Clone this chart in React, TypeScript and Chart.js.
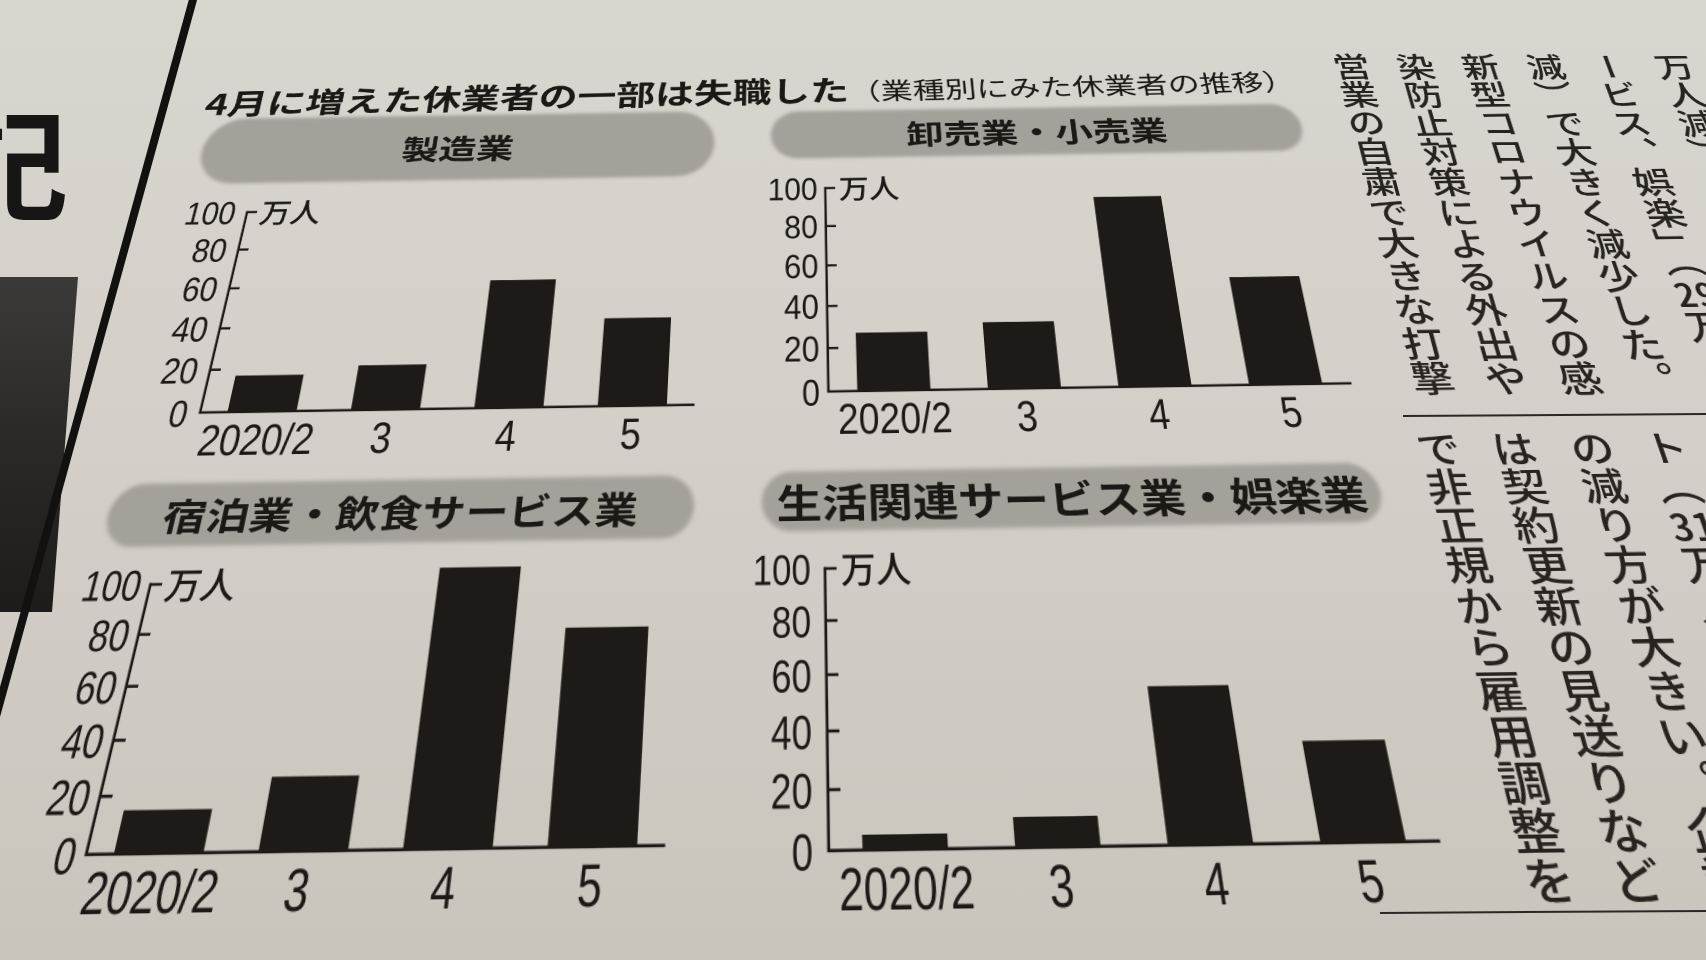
import React, { useEffect, useRef } from "react";
import { Chart, registerables } from "chart.js";

Chart.register(...registerables);

// ---------- data ----------
const categories = ["2020/2", "3", "4", "5"];
const manufacturing = [17, 21, 62, 42];
const wholesaleRetail = [27, 31, 93, 51];
const accommodationFood = [15, 26, 105, 80];
const livingEntertainment = [5, 10, 54, 34];
const yTickValues = [0, 20, 40, 60, 80, 100];
const unitLabel = "万人";
const mainTitle = "4月に増えた休業者の一部は失職した";
const subTitle = "（業種別にみた休業者の推移）";
const panelTitles = [
  "製造業",
  "卸売業・小売業",
  "宿泊業・飲食サービス業",
  "生活関連サービス業・娯楽業",
];
// surrounding article text (vertical columns, right to left)
const articleUpper = [
  "万人減）",
  "ービス、娯楽」（29万人",
  "減）で大きく減少した。",
  "新型コロナウイルスの感",
  "染防止対策による外出や",
  "営業の自粛で大きな打撃",
];
const articleLower = [
  "ト（31万人",
  "の減り方が大きい。企業",
  "は契約更新の見送りなど",
  "で非正規から雇用調整を",
];

// ---------- styles ----------
const INK = "#1b1816";
const BAR = "#1e1a17";
const BANNER = "#a4a09a";
const JP = '"Noto Sans CJK JP", "Noto Sans CJK SC", sans-serif';
const REG = '"Liberation Sans", Arial, sans-serif';

// ---------- photo perspective (the page is shot at an angle) ----------
const OX = 830;
const OY = 480;
const VD = 2580; // distance to vanishing point of vertical lines
const TILT = 6;
const ROT = -0.9;
const RAD = Math.PI / 180;
const COSA = Math.cos(TILT * RAD);
const PERSP = VD * Math.tan(TILT * RAD);

// screen point (as seen in the photo) -> flat page coordinates
function toFlat(sx: number, sy: number) {
  const r = -ROT * RAD;
  const dx = sx - OX;
  const dy = sy - OY;
  const xr = dx * Math.cos(r) - dy * Math.sin(r);
  const yr = dx * Math.sin(r) + dy * Math.cos(r);
  const u = (yr * VD) / (VD + yr);
  return { x: OX + (xr * (VD - u)) / VD, y: OY + u / COSA };
}

// layout, measured in photo (screen) coordinates
const panelLayout = [
  { base: [200, 413], top: [256, 212], end: [694, 400], bar: 0.56, yPad: 13,
    banner: { l: 203, r: 714, t: 115, b: 180 }, bannerFont: 43 },
  { base: [829, 392], top: [829, 188], end: [1352, 388], bar: 0.56, yPad: 9,
    banner: { l: 771, r: 1303, t: 108, b: 155 }, bannerFont: 43 },
  { base: [86, 855], top: [149, 585], end: [664, 850], bar: 0.62, yPad: 9,
    banner: { l: 109, r: 694, t: 480, b: 543 }, bannerFont: 42.7 },
  { base: [829, 851], top: [829, 569], end: [1440, 845], bar: 0.56, yPad: 14,
    banner: { l: 762, r: 1382, t: 467, b: 527 }, bannerFont: 45 },
];
const panelValues = [manufacturing, wholesaleRetail, accommodationFood, livingEntertainment];

const upperColX = [1675, 1610, 1546, 1481, 1416, 1352];
const lowerColX = [1665, 1591, 1513, 1438];

const Y_FONT = 40;
const Y_SX = 0.84;
const X_FONT = 45;
const X_SX = 0.85;
const X_GAP = 13;
const UNIT_FONT = 34;
const TICK_LEN = 11;
const LINE = 2.6;

// inward ticks, condensed tick labels and the unit label, all placed by the chart's scales
const axisDecor = {
  id: "axisDecor",
  afterDraw(chart: any, _args: any, o: any) {
    const { ctx, chartArea } = chart;
    const ys = chart.scales.y;
    const xs = chart.scales.x;
    ctx.save();
    ctx.strokeStyle = INK;
    ctx.fillStyle = INK;
    ctx.lineWidth = LINE;
    ys.ticks.forEach((t: any) => {
      if (t.value === ys.min) return;
      const py = ys.getPixelForValue(t.value);
      ctx.beginPath();
      ctx.moveTo(chartArea.left - LINE / 2, py);
      ctx.lineTo(chartArea.left + TICK_LEN, py);
      ctx.stroke();
    });
    ctx.font = `${Y_FONT}px ${REG}`;
    ctx.textAlign = "right";
    ctx.textBaseline = "alphabetic";
    ys.ticks.forEach((t: any) => {
      const py = ys.getPixelForValue(t.value);
      ctx.save();
      ctx.translate(chartArea.left - o.yPad, py + Y_FONT * 0.358);
      ctx.scale(Y_SX, 1);
      ctx.fillText(String(t.value), 0, 0);
      ctx.restore();
    });
    ctx.font = `${X_FONT}px ${REG}`;
    ctx.textAlign = "center";
    (chart.data.labels as string[]).forEach((lab, i) => {
      const px = xs.getPixelForValue(i);
      ctx.save();
      ctx.translate(px, chartArea.bottom + X_GAP + X_FONT * 0.716);
      ctx.scale(X_SX, 1);
      ctx.fillText(lab, 0, 0);
      ctx.restore();
    });
    ctx.font = `500 ${UNIT_FONT}px ${JP}`;
    ctx.textAlign = "left";
    ctx.textBaseline = "middle";
    ctx.fillText(unitLabel, chartArea.left + TICK_LEN + 4, ys.getPixelForValue(ys.max) + 1);
    ctx.restore();
  },
};

function Panel({ idx }: { idx: number }) {
  const ref = useRef<HTMLCanvasElement | null>(null);
  const L = panelLayout[idx];
  const baseF = toFlat(L.base[0], L.base[1]);
  const topF = toFlat(L.top[0], L.top[1]);
  const endF = toFlat(L.end[0], L.end[1]);
  const axisX = baseF.x;
  const plotTop = topF.y;
  const plotBottom = baseF.y;
  const plotRight = endF.x;
  const yW = 110;
  const padTop = 50;
  const padRight = 30;
  const xH = 80;
  const left = axisX - yW;
  const top = plotTop - padTop;
  const width = Math.round(yW + (plotRight - axisX) + padRight);
  const height = Math.round(padTop + (plotBottom - plotTop) + xH);

  useEffect(() => {
    const chart = new Chart(ref.current as HTMLCanvasElement, {
      type: "bar",
      data: {
        labels: categories,
        datasets: [
          {
            data: panelValues[idx],
            backgroundColor: BAR,
            borderWidth: 0,
            barPercentage: L.bar,
            categoryPercentage: 1,
            clip: false,
          } as any,
        ],
      },
      options: {
        animation: false,
        responsive: false,
        maintainAspectRatio: false,
        devicePixelRatio: 2,
        layout: { padding: { top: padTop, right: padRight, left: 0, bottom: 0 } },
        plugins: {
          legend: { display: false },
          tooltip: { enabled: false },
          axisDecor: { yPad: L.yPad },
        } as any,
        scales: {
          x: {
            type: "category",
            grid: { display: false, drawTicks: false },
            border: { display: true, color: INK, width: LINE },
            ticks: { display: false },
            afterFit: (s: any) => {
              s.height = xH;
            },
          },
          y: {
            type: "linear",
            min: 0,
            max: 100,
            grid: { display: false, drawTicks: false },
            border: { display: true, color: INK, width: LINE },
            ticks: { display: false },
            afterBuildTicks: (s: any) => {
              s.ticks = yTickValues.map((v) => ({ value: v }));
            },
            afterFit: (s: any) => {
              s.width = yW;
            },
          },
        } as any,
      },
      plugins: [axisDecor as any],
    });
    return () => chart.destroy();
  }, []);

  const B = L.banner;
  const bcx = (B.l + B.r) / 2;
  const bcy = (B.t + B.b) / 2;
  const bl = toFlat(B.l, bcy).x;
  const br = toFlat(B.r, bcy).x;
  const bt = toFlat(bcx, B.t).y;
  const bb = toFlat(bcx, B.b).y;
  const bh = bb - bt;
  return (
    <>
      <div style={{ position: "absolute", left: bl, top: bt, width: br - bl, height: bh }}>
        <div
          style={{
            position: "absolute",
            inset: 0,
            background: BANNER,
            borderRadius: bh / 2,
            filter: "blur(2px)",
          }}
        />
        <div
          style={{
            position: "absolute",
            inset: 0,
            display: "flex",
            alignItems: "center",
            justifyContent: "center",
            fontFamily: JP,
            fontSize: L.bannerFont,
            fontWeight: 700,
            lineHeight: 1,
            whiteSpace: "nowrap",
            color: INK,
            transform: "scaleY(0.85)",
          }}
        >
          {panelTitles[idx]}
        </div>
      </div>
      <canvas
        ref={ref}
        width={width}
        height={height}
        style={{ position: "absolute", left, top, width, height }}
      />
    </>
  );
}

function VText({ text }: { text: string }) {
  const parts = text.split(/(\d+)/);
  return (
    <>
      {parts.map((s, i) =>
        /^\d+$/.test(s) ? (
          <span key={i} style={{ textCombineUpright: "all" } as any}>
            {s}
          </span>
        ) : (
          <React.Fragment key={i}>{s}</React.Fragment>
        )
      )}
    </>
  );
}

function Article({ cols, xs, topY, font, sy }: any) {
  return (
    <>
      {cols.map((t: string, i: number) => {
        const f = toFlat(xs[i], topY + 15);
        const ft = toFlat(xs[i], topY);
        const w = font + 6;
        return (
          <div
            key={i}
            style={{
              position: "absolute",
              left: f.x - w / 2,
              top: ft.y,
              width: w,
              height: 560,
              writingMode: "vertical-rl",
              fontFamily: JP,
              fontSize: font,
              fontWeight: 500,
              lineHeight: `${w}px`,
              whiteSpace: "nowrap",
              color: "#27231f",
              transform: `scaleY(${sy})`,
              transformOrigin: "50% 0",
            }}
          >
            <VText text={t} />
          </div>
        );
      })}
    </>
  );
}

function Headline() {
  const p = toFlat(206, 103);
  const main = 45.6;
  return (
    <div
      style={{
        position: "absolute",
        left: p.x,
        top: p.y - main / 2,
        display: "flex",
        alignItems: "baseline",
        whiteSpace: "nowrap",
        lineHeight: 1,
        fontFamily: JP,
        color: INK,
        transform: "rotate(-0.5deg) scaleY(0.88)",
        transformOrigin: "0 50%",
      }}
    >
      <span style={{ fontSize: main, fontWeight: 700 }}>{mainTitle}</span>
      <span style={{ fontSize: 37.6, fontWeight: 400 }}>{subTitle}</span>
    </div>
  );
}

export default function App() {
  return (
    <div
      style={{
        position: "fixed",
        left: 0,
        top: 0,
        width: 1706,
        height: 960,
        overflow: "hidden",
        background: "linear-gradient(180deg, #d9d5cf 0%, #d3cfc8 50%, #c9c4bc 100%)",
        fontFamily: JP,
        color: INK,
      }}
    >
      {/* neighbouring page elements */}
      <div
        style={{
          position: "absolute",
          left: -50,
          top: 100,
          fontSize: 118,
          fontWeight: 700,
          lineHeight: 1,
          color: "#181614",
        }}
      >
        記
      </div>
      <svg width={1706} height={960} style={{ position: "absolute", left: 0, top: 0 }}>
        <defs>
          <linearGradient id="photo" x1="0" y1="0" x2="0" y2="1">
            <stop offset="0" stopColor="#3b3a38" />
            <stop offset="0.5" stopColor="#2a2928" />
            <stop offset="1" stopColor="#1d1c1b" />
          </linearGradient>
        </defs>
        <polygon points="0,277 78,277 52,612 0,612" fill="url(#photo)" />
        <line x1={194} y1={-4} x2={-72} y2={964} stroke="#121110" strokeWidth={8} />
        <line x1={1403} y1={416} x2={1706} y2={414} stroke="#2a2724" strokeWidth={2} />
        <line x1={1380} y1={913} x2={1706} y2={911} stroke="#2a2724" strokeWidth={2} />
      </svg>

      {/* flat page, seen through the photo's perspective */}
      <div
        style={{
          position: "absolute",
          left: 0,
          top: 0,
          width: 1706,
          height: 960,
          transformOrigin: `${OX}px ${OY}px`,
          transform: `rotate(${ROT}deg) perspective(${PERSP}px) rotateX(${TILT}deg)`,
        }}
      >
        <Headline />
        {panelLayout.map((_, i) => (
          <Panel key={i} idx={i} />
        ))}
        <Article cols={articleUpper} xs={upperColX} topY={53} font={44} sy={0.88} />
        <Article cols={articleLower} xs={lowerColX} topY={430} font={44} sy={0.86} />
      </div>
    </div>
  );
}
